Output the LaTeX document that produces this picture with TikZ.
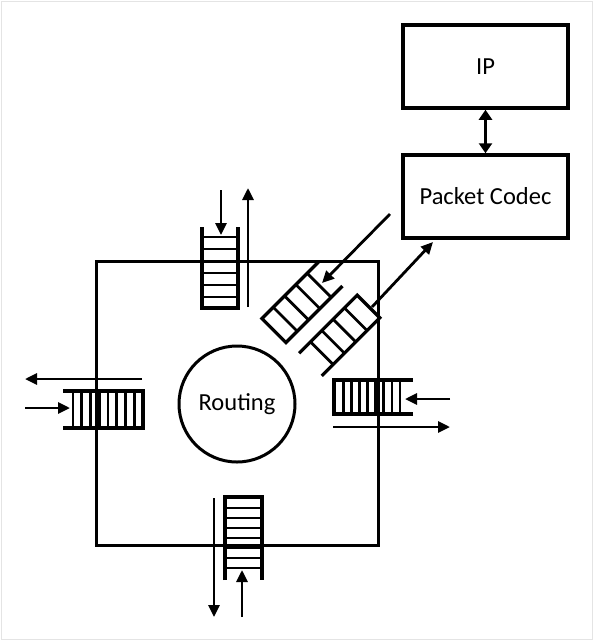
\documentclass[tikz,border=0pt]{standalone}
\usepackage{fontspec}
\setmainfont{Carlito}
\usetikzlibrary{arrows.meta}
\definecolor{framegray}{HTML}{E4E4E4}
\tikzset{
  thickline/.style={line width=3pt},
  rail/.style={line width=3.3pt, line join=miter},
  rung/.style={line width=2.7pt},
  arr/.style={line width=2.8pt, -{Triangle[length=12pt,width=11pt]}},
  dbl/.style={line width=3pt, {Triangle[length=10pt,width=13pt]}-{Triangle[length=10pt,width=13pt]}},
  blockbox/.style={draw, line width=3.5pt, minimum width=165pt, minimum height=83pt, inner sep=0pt, font=\fontsize{24.5}{29}\selectfont},
  routingnode/.style={draw, circle, line width=3pt, minimum size=116pt, inner sep=0pt, font=\fontsize{24.5}{29}\selectfont}
}
% #1 open-end centre, #2 angle, #3 length, #4 width, #5 first rung, #6 spacing, #7 number of rungs
\newcommand\qladder[7]{%
  \begin{scope}[shift={#1}, rotate=#2]
    \draw[rail] (0,{-#4/2}) -- (#3,{-#4/2}) -- (#3,{#4/2}) -- (0,{#4/2});
    \foreach \k in {1,...,#7}
      \draw[rung] ({#5+(\k-1)*#6},{-#4/2}) -- ({#5+(\k-1)*#6},{#4/2});
  \end{scope}}
\begin{document}
\begin{tikzpicture}[x=1pt,y=-1pt]
  \useasboundingbox (0,0) rectangle (594,641);
  \draw[framegray, line width=1pt] (1.5,1.5) rectangle (592,639);
  % router square
  \draw[thickline] (96,261) rectangle (378,545);
  \node[routingnode] (routing) at (237,404) {Routing};
  % IP and codec
  \node[blockbox] (ip) at (485.5,66.5) {IP};
  \node[blockbox] (codec) at (485.5,196.5) {Packet Codec};
  \draw[dbl] (ip.south) -- (codec.north);
  % queues
  \qladder{(220,227)}{-90}{81}{36}{10}{12}{6}
  \qladder{(243.5,580)}{90}{83}{37}{12}{10}{7}
  \qladder{(63,409.5)}{0}{80}{37}{10}{8.75}{8}
  \qladder{(413,397)}{180}{79}{34}{13}{8.1}{8}
  \qladder{(330.5,274)}{225}{80}{34}{16}{16}{4}
  \qladder{(310.5,364.5)}{45}{82}{32}{16}{16}{4}
  % arrow end points
  \coordinate (tin0) at (221,190);  \coordinate (tin1) at (221,235);
  \coordinate (tout0) at (248,307); \coordinate (tout1) at (248,188);
  \coordinate (lout0) at (142,379); \coordinate (lout1) at (25,379);
  \coordinate (lin0) at (25,408);   \coordinate (lin1) at (70,408);
  \coordinate (rin0) at (450,399);  \coordinate (rin1) at (405,399);
  \coordinate (rout0) at (333,427); \coordinate (rout1) at (450,427);
  \coordinate (bout0) at (214,498); \coordinate (bout1) at (214,617);
  \coordinate (bin0) at (242,617);  \coordinate (bin1) at (242,570);
  \coordinate (din0) at (390,214);  \coordinate (din1) at (322,283);
  \coordinate (dout0) at (372,307); \coordinate (dout1) at (433,242);
  \draw[arr] (tin0) -- (tin1);
  \draw[arr] (tout0) -- (tout1);
  \draw[arr] (lout0) -- (lout1);
  \draw[arr] (lin0) -- (lin1);
  \draw[arr] (rin0) -- (rin1);
  \draw[arr] (rout0) -- (rout1);
  \draw[arr] (bout0) -- (bout1);
  \draw[arr] (bin0) -- (bin1);
  \draw[arr] (din0) -- (din1);
  \draw[arr] (dout0) -- (dout1);
\end{tikzpicture}
\end{document}
